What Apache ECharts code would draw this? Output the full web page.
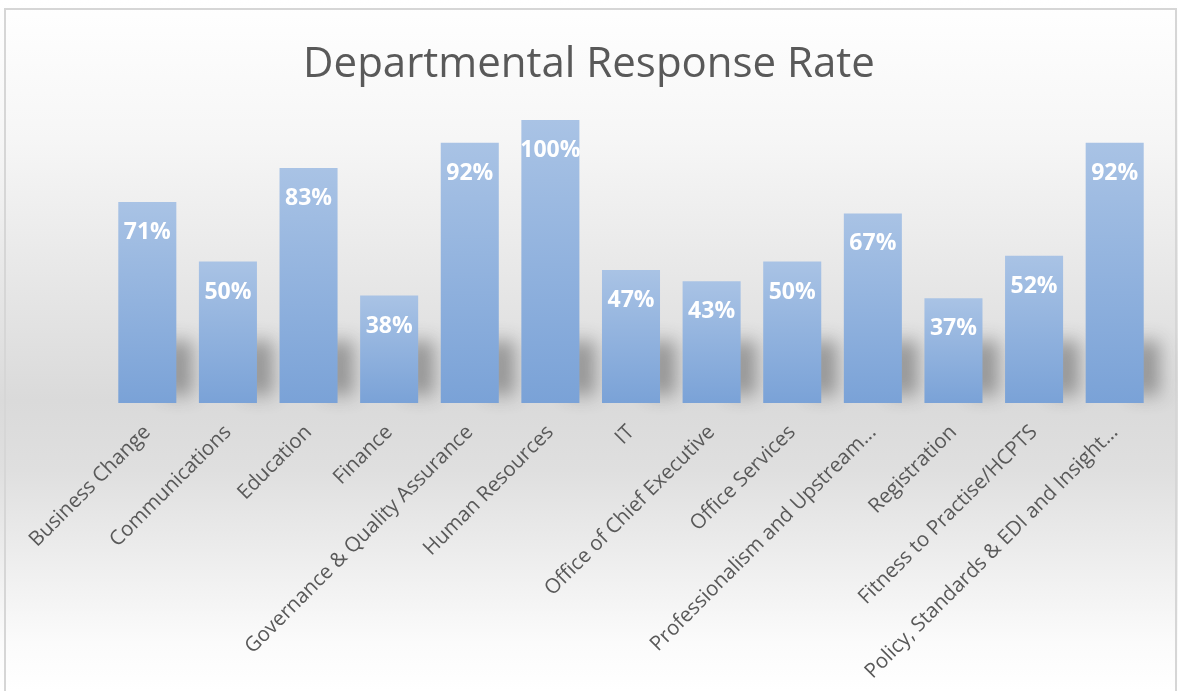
<!DOCTYPE html>
<html>
<head>
<meta charset="utf-8">
<script src="https://cdn.jsdelivr.net/npm/echarts@6/dist/echarts.min.js"></script>
<style>
html,body{margin:0;padding:0;background:#fff;}
#chart{width:1178px;height:691px;}
</style>
</head>
<body>
<div id="chart"></div>
<script>
const titleText = 'Departmental Response Rate';
const categories = [
  'Business Change',
  'Communications',
  'Education',
  'Finance',
  'Governance & Quality Assurance',
  'Human Resources',
  'IT',
  'Office of Chief Executive',
  'Office Services',
  'Professionalism and Upstream...',
  'Registration',
  'Fitness to Practise/HCPTS',
  'Policy, Standards & EDI and Insight...'
];
const responseRate = [71, 50, 83, 38, 92, 100, 47, 43, 50, 67, 37, 52, 92];

const FONT = '"Open Sans", "Liberation Sans", sans-serif';
const chart = echarts.init(document.getElementById('chart'));

const shadowData = responseRate.map((v, i) => [i, v]);

chart.setOption({
  animation: false,
  backgroundColor: {
    type: 'linear', x: 0, y: 0, x2: 0, y2: 1,
    colorStops: [
      {offset: 0, color: '#ffffff'},
      {offset: 0.2, color: '#f6f6f6'},
      {offset: 0.58, color: '#dadada'},
      {offset: 0.68, color: '#dfdfdf'},
      {offset: 0.93, color: '#fbfbfb'},
      {offset: 1, color: '#ffffff'}
    ]
  },
  graphic: [{
    type: 'rect',
    silent: true,
    shape: {x: 5, y: 9, width: 1171, height: 700},
    style: {fill: 'none', stroke: '#d6d6d6', lineWidth: 2}
  }],
  title: {
    text: titleText,
    left: 'center',
    top: 39,
    textStyle: {fontFamily: FONT, fontSize: 42, fontWeight: 'normal', color: '#595959'}
  },
  grid: {left: 107, right: 23, top: 120, bottom: 288},
  xAxis: {
    type: 'category',
    data: categories,
    axisLine: {show: false},
    axisTick: {show: false},
    axisLabel: {
      rotate: 45,
      interval: 0,
      margin: 26,
      fontFamily: FONT,
      fontSize: 20.5,
      color: '#595959'
    }
  },
  yAxis: {
    type: 'value',
    min: 0,
    max: 100,
    show: false,
    splitLine: {show: false}
  },
  series: [
    {
      type: 'custom',
      z: 1,
      silent: true,
      data: shadowData,
      encode: {x: 0, y: 1},
      renderItem: function (params, api) {
        const p = api.coord([api.value(0), 0]);
        const band = api.size([1, 0])[0];
        const barW = band * 0.72;
        const off = 3000;
        return {
          type: 'rect',
          shape: {x: p[0] + barW / 2 - 12 - off, y: p[1] - 62, width: 28, height: 54},
          style: {
            fill: 'rgba(0,0,0,1)',
            shadowBlur: 18,
            shadowOffsetX: off,
            shadowColor: 'rgba(60,60,60,0.45)'
          }
        };
      }
    },
    {
      type: 'bar',
      z: 2,
      data: responseRate,
      barCategoryGap: '28%',
      itemStyle: {
        color: {
          type: 'linear', x: 0, y: 0, x2: 0, y2: 1,
          colorStops: [
            {offset: 0, color: '#a9c3e5'},
            {offset: 1, color: '#7aa2d7'}
          ]
        }
      },
      label: {
        show: true,
        position: 'insideTop',
        distance: 19,
        formatter: '{c}%',
        fontFamily: FONT,
        fontSize: 23,
        fontWeight: 'bold',
        color: '#ffffff'
      }
    }
  ]
});
</script>
</body>
</html>
